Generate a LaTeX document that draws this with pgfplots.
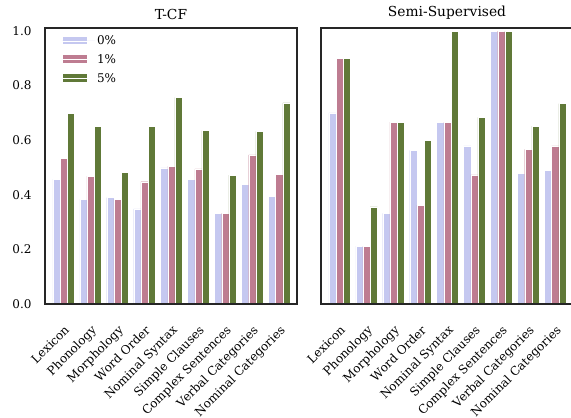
\documentclass[border=0pt]{standalone}
\usepackage{fontspec}
\setmainfont{DejaVu Serif}
\usepackage{pgfplots}
\pgfplotsset{compat=1.18}
\definecolor{c0}{RGB}{197,200,240}
\definecolor{c1}{RGB}{190,124,145}
\definecolor{c2}{RGB}{96,121,56}
\definecolor{spine}{RGB}{38,38,38}
\pgfplotsset{
  myax/.style={
    scale only axis, width=252pt, height=276pt,
    ymin=0, ymax=1.011, xmin=-0.69, xmax=8.66,
    ybar, bar width=0.2667,
    xtick={0,...,8},
    xticklabels={Lexicon,Phonology,Morphology,Word Order,Nominal Syntax,Simple Clauses,Complex Sentences,Verbal Categories,Nominal Categories},
    x tick label style={xshift=0pt, yshift=-19pt, rotate=45, anchor=north east, font=\fontsize{12}{14}\selectfont, inner sep=1pt},
    ytick={0,0.2,0.4,0.6,0.8,1.0},
    y tick label style={font=\fontsize{12}{14}\selectfont, xshift=-10pt},
    yticklabel style={/pgf/number format/.cd, fixed, fixed zerofill, precision=1},
    /pgf/number format/assume math mode=true,
    major tick length=0pt, tick style={draw=none},
    axis line style={spine, line width=1.2pt},
    title style={font=\fontsize{13.8}{16}\selectfont, yshift=-1pt},
    axis on top=true,
  },
  b0/.style={fill=c0, draw=white, line width=0.3pt, bar shift=-0.2667},
  b1/.style={fill=c1, draw=white, line width=0.3pt, bar shift=0},
  b2/.style={fill=c2, draw=white, line width=0.3pt, bar shift=0.2667},
}
\begin{document}
\begin{tikzpicture}[x=1pt,y=1pt]
\begin{axis}[myax, at={(45pt,114pt)}, anchor=south west, title={T-CF},
  legend style={draw=none, fill=none, at={(0.054,0.988)}, anchor=north west, font=\fontsize{12}{14}\selectfont, row sep=4.5pt},
  legend image code/.code={\fill[#1] (0pt,-3.5pt) rectangle (25pt,5pt); \path (0pt,0pt) -- (33pt,0pt);}]
\addplot[b0] coordinates {(0,0.457) (1,0.384) (2,0.390) (3,0.348) (4,0.499) (5,0.456) (6,0.332) (7,0.439) (8,0.395)};
\addplot[b1] coordinates {(0,0.533) (1,0.468) (2,0.384) (3,0.448) (4,0.505) (5,0.495) (6,0.332) (7,0.546) (8,0.475)};
\addplot[b2] coordinates {(0,0.698) (1,0.652) (2,0.482) (3,0.652) (4,0.757) (5,0.635) (6,0.472) (7,0.632) (8,0.737)};
\legend{0\%,1\%,5\%}
\end{axis}
\begin{axis}[myax, at={(321pt,114pt)}, anchor=south west, title={Semi-Supervised}, yticklabels={}]
\addplot[b0] coordinates {(0,0.700) (1,0.212) (2,0.332) (3,0.563) (4,0.666) (5,0.579) (6,1.0) (7,0.478) (8,0.489)};
\addplot[b1] coordinates {(0,0.901) (1,0.212) (2,0.666) (3,0.362) (4,0.666) (5,0.473) (6,1.0) (7,0.566) (8,0.579)};
\addplot[b2] coordinates {(0,0.901) (1,0.356) (2,0.666) (3,0.600) (4,1.0) (5,0.684) (6,1.0) (7,0.652) (8,0.734)};
\end{axis}
\pgfresetboundingbox
\useasboundingbox (0pt,0pt) rectangle (571pt,418pt);
\end{tikzpicture}
\end{document}
